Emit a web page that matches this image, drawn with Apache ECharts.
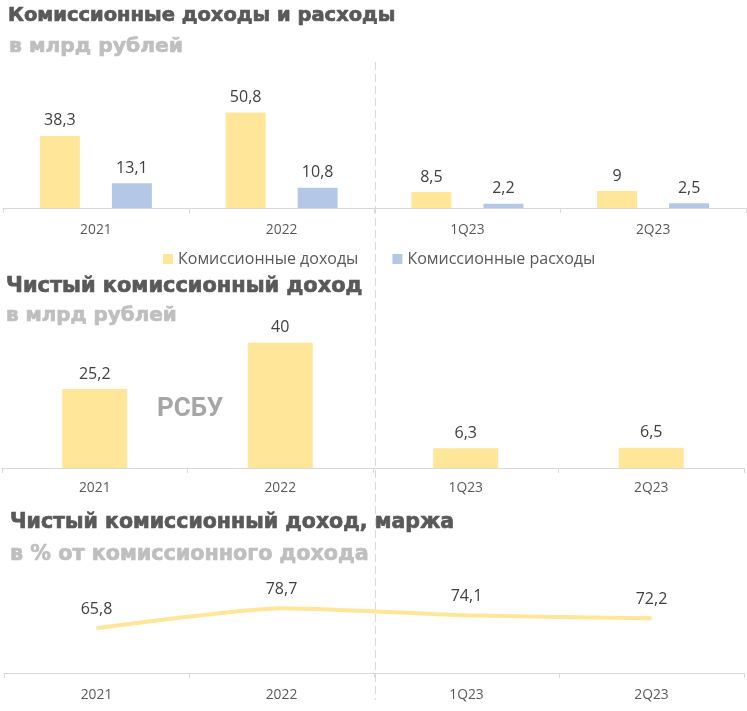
<!DOCTYPE html>
<html><head><meta charset="utf-8">
<script src="https://cdn.jsdelivr.net/npm/echarts@6/dist/echarts.min.js"></script>
<style>html,body{margin:0;padding:0;background:#fff}#c{width:747px;height:711px}</style>
</head><body><div id="c"></div>
<script>
const categories = ['2021', '2022', '1Q23', '2Q23'];
const commIncome = [38.3, 50.8, 8.5, 9];
const commExpense = [13.1, 10.8, 2.2, 2.5];
const netCommIncome = [25.2, 40, 6.3, 6.5];
const netMargin = [65.8, 78.7, 74.1, 72.2];
const seriesNames = ['Комиссионные доходы', 'Комиссионные расходы'];

const fmt = v => String(v).replace('.', ',');
const YEL = '#ffe699', BLU = '#b4c7e7';
const labelFont = { fontFamily: 'Open Sans', fontSize: 16, color: '#404040' };
const tf = s => 'bold ' + s + 'px "DejaVu Sans"';

function xAx(grid, margin) {
  return {
    type: 'category', gridIndex: grid, data: categories,
    axisLine: { lineStyle: { color: '#d9d9d9', width: 1 } },
    axisTick: { show: true, length: 5, lineStyle: { color: '#d9d9d9' } },
    axisLabel: { color: '#595959', fontFamily: 'Open Sans', fontSize: 13.8, margin: margin }
  };
}
function yAx(grid, min, max) {
  return { type: 'value', gridIndex: grid, min: min, max: max, show: false, splitLine: { show: false } };
}
function txt(x, y, text, fill, font, align, heavy) {
  const st = { text: text, fill: fill, font: font, align: align || 'left', verticalAlign: 'middle' };
  if (heavy) { st.stroke = fill; st.lineWidth = 0.7; }
  return { type: 'text', x: x, y: y, z: 10, style: st };
}

const chart = echarts.init(document.getElementById('c'));
chart.setOption({
  animation: false,
  backgroundColor: '#fff',
  grid: [
    { left: 3, width: 743, top: 80, height: 128 },
    { left: 2, width: 742, top: 340, height: 128 },
    { left: 4, width: 740, top: 575, height: 98 }
  ],
  xAxis: [xAx(0, 15), xAx(1, 13), xAx(2, 15)],
  yAxis: [yAx(0, 0, 68), yAx(1, 0, 40.85), yAx(2, 37, 100)],
  legend: {
    left: 158, top: 246, icon: 'rect', itemWidth: 10, itemHeight: 10, itemGap: 34,
    textStyle: { color: '#595959', fontFamily: 'Open Sans', fontSize: 16 },
    data: seriesNames
  },
  series: [
    { name: seriesNames[0], type: 'bar', xAxisIndex: 0, yAxisIndex: 0, data: commIncome,
      barWidth: 40, barGap: '80%', itemStyle: { color: YEL },
      label: Object.assign({ show: true, position: 'top', distance: 7, formatter: p => fmt(p.value) }, labelFont) },
    { name: seriesNames[1], type: 'bar', xAxisIndex: 0, yAxisIndex: 0, data: commExpense,
      barWidth: 40, barGap: '80%', itemStyle: { color: BLU },
      label: Object.assign({ show: true, position: 'top', distance: 7, formatter: p => fmt(p.value) }, labelFont) },
    { name: 'Чистый комиссионный доход', type: 'bar', xAxisIndex: 1, yAxisIndex: 1, data: netCommIncome,
      barWidth: 65, itemStyle: { color: YEL },
      label: Object.assign({ show: true, position: 'top', distance: 7, formatter: p => fmt(p.value) }, labelFont) },
    { name: 'Маржа', type: 'line', xAxisIndex: 2, yAxisIndex: 2, data: netMargin,
      smooth: 0.2, symbol: 'circle', symbolSize: 1,
      itemStyle: { color: YEL }, lineStyle: { color: YEL, width: 4 },
      label: Object.assign({ show: true, position: 'top', distance: 10, formatter: p => fmt(p.value) }, labelFont) }
  ],
  graphic: [
    { type: 'line', z: -10, shape: { x1: 375.5, y1: 62, x2: 375.5, y2: 700 },
      style: { stroke: '#d9d9d9', lineWidth: 1, lineDash: [8, 4] } },
    txt(8, 16, 'Комиссионные доходы и расходы', '#595959', tf(19.5), 'left', true),
    txt(9, 47, 'в млрд рублей', '#bfbfbf', tf(20.3), 'left', true),
    txt(6, 287, 'Чистый комиссионный доход', '#595959', tf(20.9), 'left', true),
    txt(6, 316, 'в млрд рублей', '#bfbfbf', tf(19.9), 'left', true),
    txt(10, 523, 'Чистый комиссионный доход, маржа', '#595959', tf(20.5), 'left', true),
    txt(10, 555, 'в % от комиссионного дохода', '#bfbfbf', tf(20.7), 'left', true),
    txt(190, 409, 'РСБУ', '#a6a6a6', 'bold 26px Roboto', 'center')
  ]
});
</script></body></html>
